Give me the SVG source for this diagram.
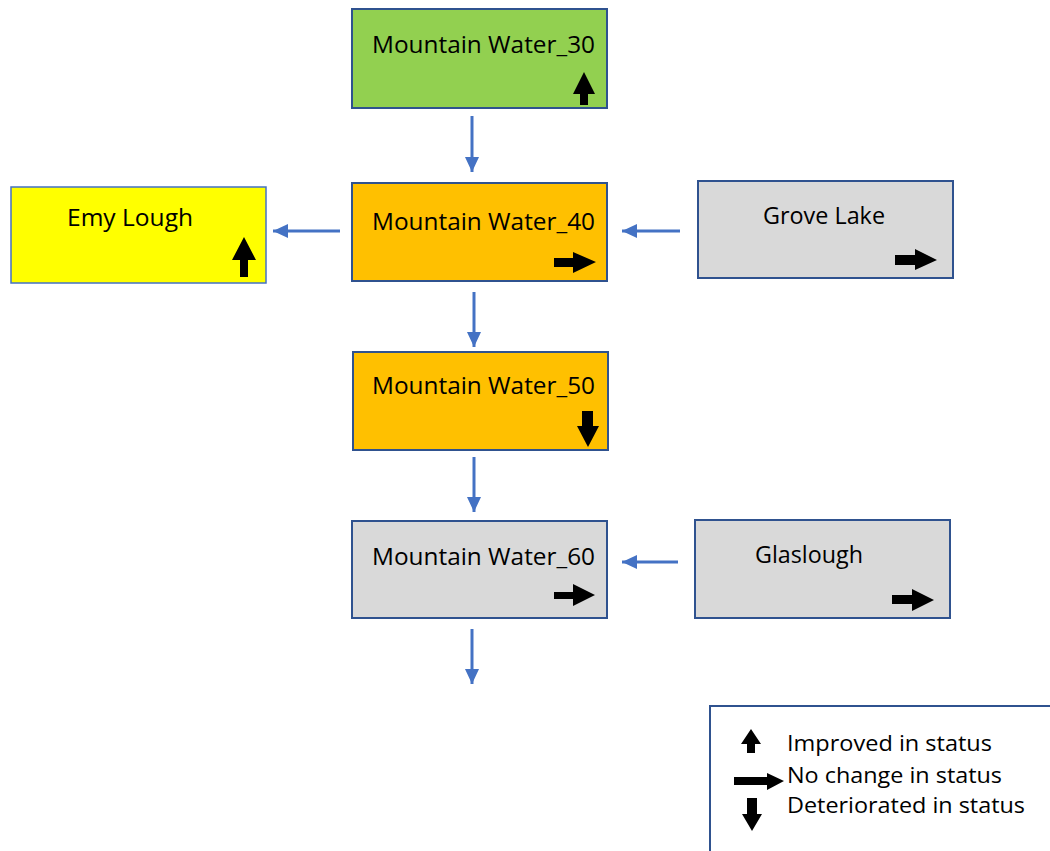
<svg xmlns="http://www.w3.org/2000/svg" width="1050" height="851" viewBox="0 0 1050 851">
<defs>
<style>
.box{stroke:#2F528F;stroke-width:2}
.lbl{font-family:"Open Sans","Liberation Sans",sans-serif;font-size:24px;fill:#000}
.leg{font-family:"Open Sans","Liberation Sans",sans-serif;font-size:22px;fill:#000}
.conn{stroke:#4472C4;stroke-width:3;fill:none;marker-end:url(#ah)}
.st{fill:#000}
</style>
<marker id="ah" markerUnits="userSpaceOnUse" markerWidth="16" markerHeight="16" viewBox="0 0 16 16" refX="15" refY="8" orient="auto">
<path d="M0,1 L15,8 L0,15 Z" fill="#4472C4"/>
</marker>
</defs>
<rect width="1050" height="851" fill="#fff"/>
<g id="connectors">
<line class="conn" x1="472" y1="116" x2="472" y2="172"/>
<line class="conn" x1="340" y1="231" x2="273" y2="231"/>
<line class="conn" x1="680" y1="231" x2="622" y2="231"/>
<line class="conn" x1="474" y1="292" x2="474" y2="347"/>
<line class="conn" x1="474" y1="457" x2="474" y2="512"/>
<line class="conn" x1="678" y1="562" x2="622" y2="562"/>
<line class="conn" x1="472" y1="629" x2="472" y2="684"/>
</g>
<g id="mw30">
<rect class="box" x="352" y="9" width="255" height="99" fill="#92D050"/>
<text class="lbl" x="372" y="53" textLength="223" lengthAdjust="spacingAndGlyphs">Mountain Water_30</text>
<polygon class="st" points="584,72 595,94 588,94 588,105 580,105 580,94 573,94"/>
</g>
<g id="mw40">
<rect class="box" x="352" y="183" width="255" height="98" fill="#FFC000"/>
<text class="lbl" x="372" y="230" textLength="223" lengthAdjust="spacingAndGlyphs">Mountain Water_40</text>
<polygon class="st" points="596,262 573,252 573,258 554,258 554,267 573,267 573,273"/>
</g>
<g id="emy">
<rect x="11" y="187" width="255" height="96" fill="#FFFF00" stroke="#4472C4" stroke-width="1.5"/>
<text class="lbl" x="67" y="226" textLength="126" lengthAdjust="spacingAndGlyphs">Emy Lough</text>
<polygon class="st" points="244,237 256,260 248,260 248,277 240,277 240,260 232,260"/>
</g>
<g id="grove">
<rect class="box" x="698" y="181" width="255" height="97" fill="#D9D9D9"/>
<text class="lbl" x="763" y="224" textLength="122" lengthAdjust="spacingAndGlyphs">Grove Lake</text>
<polygon class="st" points="937,260 915,249 915,255 895,255 895,265 915,265 915,270"/>
</g>
<g id="mw50">
<rect class="box" x="353" y="352" width="255" height="98" fill="#FFC000"/>
<text class="lbl" x="372" y="394" textLength="223" lengthAdjust="spacingAndGlyphs">Mountain Water_50</text>
<polygon class="st" points="588,447 599,426 593,426 593,411 582,411 582,426 577,426"/>
</g>
<g id="mw60">
<rect class="box" x="352" y="521" width="255" height="97" fill="#D9D9D9"/>
<text class="lbl" x="372" y="565" textLength="223" lengthAdjust="spacingAndGlyphs">Mountain Water_60</text>
<polygon class="st" points="595,595 573,584 573,592 554,592 554,599 573,599 573,606"/>
</g>
<g id="glaslough">
<rect class="box" x="695" y="520" width="255" height="98" fill="#D9D9D9"/>
<text class="lbl" x="755" y="563" textLength="108" lengthAdjust="spacingAndGlyphs">Glaslough</text>
<polygon class="st" points="934,600 912,589 912,595 892,595 892,604 912,604 912,611"/>
</g>
<g id="legend">
<path d="M710,852 L710,706 L1051,706" fill="none" stroke="#2F528F" stroke-width="2"/>
<polygon class="st" points="751,729 761,744 755,744 755,753 747,753 747,744 741,744"/>
<polygon class="st" points="784,781 767,773 767,777 734,777 734,785 767,785 767,790"/>
<polygon class="st" points="752,831 762,814 757,814 757,798 747,798 747,814 742,814"/>
<text class="leg" x="787" y="751" textLength="205" lengthAdjust="spacingAndGlyphs">Improved in status</text>
<text class="leg" x="787" y="783" textLength="215" lengthAdjust="spacingAndGlyphs">No change in status</text>
<text class="leg" x="787" y="813" textLength="238" lengthAdjust="spacingAndGlyphs">Deteriorated in status</text>
</g>
</svg>
